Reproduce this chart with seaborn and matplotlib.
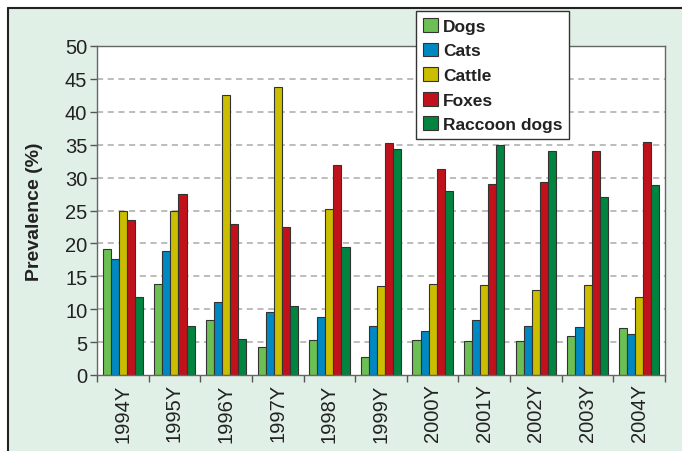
import numpy as np
import pandas as pd
import matplotlib
matplotlib.use("Agg")
import matplotlib.pyplot as plt
import seaborn as sns
from matplotlib.lines import Line2D
from matplotlib.patches import Rectangle

years = ["1994Y", "1995Y", "1996Y", "1997Y", "1998Y", "1999Y",
         "2000Y", "2001Y", "2002Y", "2003Y", "2004Y"]
species = ["Dogs", "Cats", "Cattle", "Foxes", "Raccoon dogs"]
dogs = [19.1, 13.8, 8.3, 4.3, 5.3, 2.7, 5.3, 5.2, 5.1, 5.9, 7.2]
cats = [17.6, 18.8, 11.1, 9.6, 8.8, 7.4, 6.7, 8.3, 7.5, 7.3, 6.3]
cattle = [24.9, 24.9, 42.6, 43.8, 25.2, 13.5, 13.8, 13.7, 12.9, 13.7, 11.8]
foxes = [23.5, 27.5, 23.0, 22.5, 31.9, 35.3, 31.3, 29.1, 29.3, 34.1, 35.4]
raccoon = [11.8, 7.5, 5.5, 10.5, 19.5, 34.3, 28.0, 35.0, 34.0, 27.0, 28.9]
colors = ["#6cbf52", "#0088c2", "#cbbd00", "#c1121c", "#00843f"]

rows = []
for sp, vals in zip(species, [dogs, cats, cattle, foxes, raccoon]):
    for y, v in zip(years, vals):
        rows.append({"Year": y, "Species": sp, "Prevalence": v})
df = pd.DataFrame(rows)

sns.set_theme(style="white")
plt.rcParams["font.family"] = ["Liberation Sans", "DejaVu Sans"]

fig = plt.figure(figsize=(6.82, 4.52), dpi=100)
fig.patch.set_facecolor("white")
W, H = 682, 452
fig.patches.append(Rectangle((8 / W, 0), 1 - 8 / W, 1 - 9 / H, transform=fig.transFigure,
                             facecolor="#e1f0e6", edgecolor="none", zorder=-10))
fig.lines.append(Line2D([8 / W, 8 / W], [0, 1 - 9 / H], transform=fig.transFigure,
                        color="#222222", lw=1.5))
fig.lines.append(Line2D([8 / W, 1], [1 - 9 / H, 1 - 9 / H], transform=fig.transFigure,
                        color="#222222", lw=1.5))

ax = fig.add_axes([97 / W, (H - 376) / H, (665 - 97) / W, (376 - 47) / H])
ax.set_facecolor("white")
sns.barplot(data=df, x="Year", y="Prevalence", hue="Species", order=years,
            hue_order=species, palette=colors, width=0.78, ax=ax,
            edgecolor="#333333", linewidth=0.8, saturation=1, legend=True, errorbar=None)

ax.set_ylim(0, 50)
ax.set_xlim(-0.5, len(years) - 0.5)
ax.set_yticks(range(0, 51, 5))
ax.set_yticklabels([str(v) for v in range(0, 51, 5)], fontsize=14.5, color="#222222")
for v in range(5, 50, 5):
    ax.axhline(v, color="#aaaaaa", lw=1.1, ls=(0, (4, 3)), zorder=0)
ax.set_axisbelow(True)

ax.set_xticks(np.arange(-0.5, len(years), 1))
ax.set_xticklabels([])
ax.set_xticks(np.arange(len(years)), minor=True)
ax.set_xticklabels(years, minor=True, rotation=90, fontsize=14.5, color="#222222")
ax.tick_params(axis="x", which="major", direction="out", length=5, width=1, color="#555555", bottom=True)
ax.tick_params(axis="x", which="minor", length=0, pad=6)
ax.tick_params(axis="y", direction="out", length=5, width=1, color="#555555", left=True, pad=2)

for s in ax.spines.values():
    s.set_color("#666666")
    s.set_linewidth(1.0)
    s.set_visible(True)

ax.set_xlabel("")
ax.set_ylabel("Prevalence (%)", fontsize=14, fontweight="bold", color="#222222", labelpad=16)

handles, labels = ax.get_legend_handles_labels()
ax.get_legend().remove()
leg = fig.legend(handles, labels, loc="upper left",
                 bbox_to_anchor=(416 / W, 1 - 12 / H), bbox_transform=fig.transFigure,
                 prop={"weight": "bold", "size": 12.5}, frameon=True, fancybox=False,
                 edgecolor="#333333", framealpha=1, borderpad=0.4, labelspacing=0.5,
                 handlelength=0.85, handleheight=0.85, handletextpad=0.3, borderaxespad=0)
leg.get_frame().set_linewidth(1.0)
for t in leg.get_texts():
    t.set_color("#222222")

fig.savefig("out.png", dpi=100)
